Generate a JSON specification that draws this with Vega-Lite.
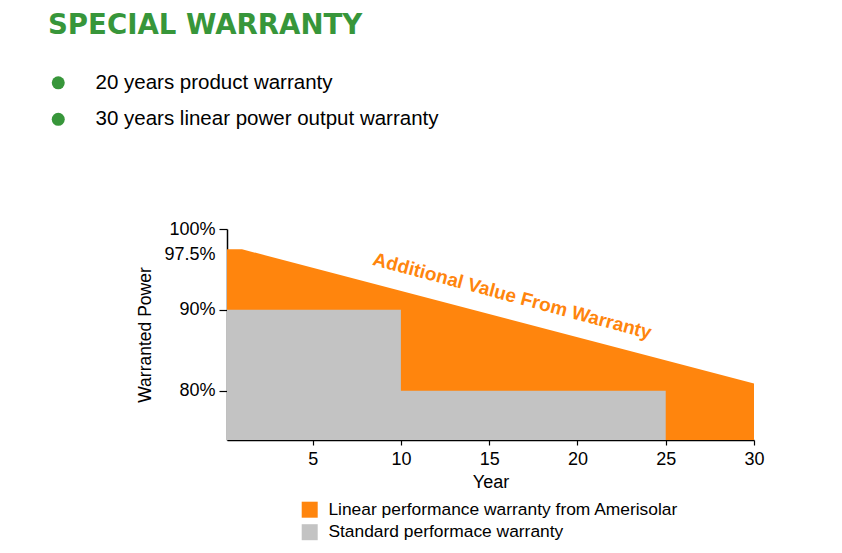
{
  "$schema": "https://vega.github.io/schema/vega-lite/v6.json",
  "width": 527,
  "height": 211,
  "autosize": {"type": "none"},
  "padding": {"left": 227, "top": 229, "right": 88, "bottom": 113},
  "background": "white",
  "config": {
    "font": "Liberation Sans",
    "view": {"stroke": null},
    "axis": {
      "grid": false,
      "domainColor": "#000000",
      "domainWidth": 1.5,
      "tickColor": "#000000",
      "tickWidth": 1.2,
      "labelColor": "#000000",
      "titleColor": "#000000",
      "labelFontSize": 18,
      "titleFontSize": 18,
      "titleFontWeight": "normal",
      "labelFlush": false,
      "labelOverlap": false
    }
  },
  "layer": [
    {
      "data": {
        "values": [
          {"year": 0, "power": 97.5, "series": "Linear performance warranty from Amerisolar"},
          {"year": 1, "power": 97.5, "series": "Linear performance warranty from Amerisolar"},
          {"year": 30, "power": 80.9, "series": "Linear performance warranty from Amerisolar"}
        ]
      },
      "mark": {"type": "area", "clip": true},
      "encoding": {
        "x": {
          "field": "year",
          "type": "quantitative",
          "scale": {"domain": [0.15, 30], "nice": false, "zero": false},
          "axis": {
            "values": [5, 10, 15, 20, 25, 30],
            "title": "Year",
            "tickSize": 5,
            "labelPadding": 5,
            "titlePadding": 5
          }
        },
        "y": {
          "field": "power",
          "type": "quantitative",
          "stack": null,
          "scale": {"domain": [73.9, 100], "nice": false, "zero": false},
          "axis": {
            "values": [80, 90, 97.5, 100],
            "labelExpr": "datum.value + '%'",
            "title": "Warranted Power",
            "titleFontSize": 17.5,
            "tickSize": 8,
            "labelPadding": 4,
            "titlePadding": 9,
            "tickOpacity": {"condition": {"test": "datum.value === 97.5", "value": 0}, "value": 1},
            "labelOffset": {"condition": {"test": "datum.value === 97.5", "value": 5}, "value": 0}
          }
        },
        "color": {
          "field": "series",
          "type": "nominal",
          "scale": {
            "domain": ["Linear performance warranty from Amerisolar", "Standard performace warranty"],
            "range": ["#FF850D", "#C3C3C3"]
          },
          "legend": {
            "orient": "none",
            "legendX": 74,
            "legendY": 272,
            "title": null,
            "direction": "vertical",
            "padding": 0,
            "symbolType": "square",
            "symbolSize": 256,
            "symbolStrokeWidth": 0,
            "labelFontSize": 17.4,
            "labelColor": "#000000",
            "labelLimit": 600,
            "labelOffset": 10,
            "rowPadding": 3.5
          }
        }
      }
    },
    {
      "data": {
        "values": [
          {"year": 0, "power": 90, "series": "Standard performace warranty"},
          {"year": 10, "power": 80, "series": "Standard performace warranty"},
          {"year": 25, "power": 80, "series": "Standard performace warranty"}
        ]
      },
      "mark": {"type": "area", "interpolate": "step-after", "clip": true},
      "encoding": {
        "x": {"field": "year", "type": "quantitative", "scale": {"domain": [0.15, 30], "nice": false, "zero": false}},
        "y": {"field": "power", "type": "quantitative", "stack": null, "scale": {"domain": [73.9, 100], "nice": false, "zero": false}},
        "color": {"field": "series", "type": "nominal"}
      }
    },
    {
      "data": {"values": [{"note": "Additional Value From Warranty"}]},
      "mark": {
        "type": "text",
        "angle": 15,
        "fontSize": 19,
        "fontWeight": "bold",
        "color": "#FF850D",
        "align": "center",
        "baseline": "middle"
      },
      "encoding": {
        "x": {"datum": 16.3, "type": "quantitative"},
        "y": {"datum": 91.7, "type": "quantitative"},
        "text": {"field": "note", "type": "nominal"}
      }
    },
    {
      "data": {
        "values": [
          {"item": "20 years product warranty"},
          {"item": "30 years linear power output warranty"}
        ]
      },
      "mark": {"type": "point", "filled": true, "color": "#37963A", "opacity": 0, "size": 169},
      "encoding": {
        "shape": {
          "field": "item",
          "type": "nominal",
          "sort": null,
          "scale": {
            "domain": ["20 years product warranty", "30 years linear power output warranty"],
            "range": ["circle", "circle"]
          },
          "legend": {
            "orient": "none",
            "legendX": -179,
            "legendY": -217,
            "direction": "vertical",
            "padding": 0,
            "title": "SPECIAL WARRANTY",
            "titleFont": "DejaVu Sans",
            "titleFontSize": 27.6,
            "titleFontWeight": "bold",
            "titleColor": "#37963A",
            "titleLimit": 600,
            "titlePadding": 33,
            "labelFontSize": 20.5,
            "labelColor": "#000000",
            "labelLimit": 600,
            "labelOffset": 27,
            "symbolSize": 169,
            "symbolOpacity": 1,
            "symbolFillColor": "#37963A",
            "symbolStrokeWidth": 0,
            "rowPadding": 15.5
          }
        }
      }
    }
  ]
}
